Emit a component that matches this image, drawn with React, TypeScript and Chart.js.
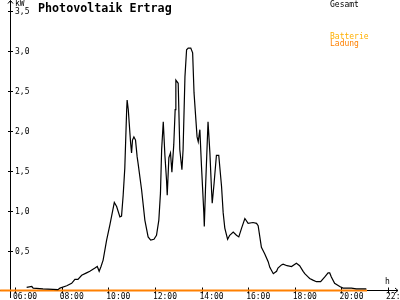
import React, { useEffect, useRef } from "react";
import { Chart, registerables } from "chart.js";

Chart.register(...registerables);

// Time of day in decimal hours
const HOURS = [
  6.5, 6.72, 6.78, 7.2, 7.84, 7.93, 8.22, 8.43, 8.57, 8.7, 8.86, 9.07, 9.21, 9.43, 9.53, 9.61, 9.69,
  9.78, 9.93, 10.07, 10.26, 10.36, 10.5, 10.57, 10.64, 10.71, 10.79, 10.81, 10.86, 10.9, 10.96, 11.0,
  11.04, 11.1, 11.17, 11.24, 11.28, 11.43, 11.57, 11.71, 11.82, 11.96, 12.07, 12.17, 12.24, 12.29,
  12.36, 12.43, 12.5, 12.53, 12.6, 12.67, 12.73, 12.81, 12.87, 12.9, 13.0, 13.07, 13.16, 13.21, 13.29,
  13.36, 13.43, 13.54, 13.62, 13.68, 13.76, 13.81, 13.86, 13.93, 14.0, 14.1, 14.12, 14.17, 14.24,
  14.28, 14.36, 14.43, 14.46, 14.54, 14.64, 14.74, 14.86, 14.93, 15.0, 15.12, 15.21, 15.36, 15.5,
  15.6, 15.72, 15.86, 16.0, 16.21, 16.36, 16.43, 16.57, 16.71, 16.86, 16.93, 17.08, 17.22, 17.28,
  17.43, 17.5, 17.67, 17.86, 18.07, 18.21, 18.36, 18.43, 18.57, 18.64, 18.78, 18.93, 19.11, 19.29,
  19.43, 19.5, 19.57, 19.71, 19.93, 20.07, 20.28, 20.43, 20.64, 21.07,
];

// Gesamt (kW)
const GESAMT = [
  0.04, 0.05, 0.03, 0.02, 0.01, 0.03, 0.06, 0.09, 0.14, 0.14, 0.19, 0.22, 0.24, 0.28, 0.3, 0.24, 0.3,
  0.38, 0.63, 0.82, 1.1, 1.05, 0.92, 0.93, 1.19, 1.53, 2.26, 2.38, 2.26, 2.09, 1.84, 1.72,
  1.88, 1.92, 1.88, 1.67, 1.59, 1.26, 0.88, 0.67, 0.63, 0.64, 0.69, 0.88, 1.22, 1.76,
  2.11, 1.69, 1.38, 1.19, 1.66, 1.72, 1.48, 1.82, 2.26, 2.63, 2.59, 1.76, 1.51, 1.76, 2.67,
  3.01, 3.03, 3.03, 2.97, 2.47, 2.13, 1.92, 1.86, 2.01, 1.55, 0.97, 0.8, 1.26, 1.8,
  2.11, 1.72, 1.26, 1.09, 1.34, 1.69, 1.69, 1.3, 0.97, 0.78, 0.64, 0.69, 0.73, 0.69,
  0.67, 0.78, 0.9, 0.84, 0.85, 0.84, 0.81, 0.54, 0.46, 0.36, 0.29, 0.21, 0.24, 0.28,
  0.32, 0.33, 0.31, 0.3, 0.34, 0.31, 0.24, 0.21, 0.17, 0.15, 0.13, 0.11, 0.11, 0.17,
  0.22, 0.22, 0.17, 0.09, 0.05, 0.03, 0.03, 0.03, 0.02, 0.02,
];

// Batterie Ladung (kW)
const BATTERIE_HOURS = [5.36, 21.1];
const BATTERIE = [0, 0];

const X_TICKS = [6, 8, 10, 12, 14, 16, 18, 20, 22];
const X_TICK_LABELS = ["06:00", "08:00", "10:00", "12:00", "14:00", "16:00", "18:00", "20:00", "22:00"];
const Y_TICKS = [0.5, 1, 1.5, 2, 2.5, 3, 3.5];
const Y_TICK_LABELS = ["0,5", "1,0", "1,5", "2,0", "2,5", "3,0", "3,5"];

const TITLE = "Photovoltaik Ertrag";
const Y_UNIT = "kW";
const X_UNIT = "h";

const MONO = '"DejaVu Sans Mono", monospace';

const axesPlugin = {
  id: "customAxes",
  beforeDatasetsDraw(chart: any) {
    const ctx = chart.ctx;
    const xs = chart.scales.x;
    const ys = chart.scales.y;
    const ax = Math.round(xs.left) - 5 + 0.5;
    const ay = Math.floor(ys.getPixelForValue(0)) + 0.5;
    ctx.save();
    ctx.strokeStyle = "#000";
    ctx.lineWidth = 1;
    ctx.beginPath();
    // y axis + arrow
    ctx.moveTo(ax, 0.5);
    ctx.lineTo(ax, 298);
    ctx.moveTo(ax - 2.5, 3.5);
    ctx.lineTo(ax, 0.5);
    ctx.lineTo(ax + 2.5, 3.5);
    // x axis + arrow
    ctx.moveTo(0, ay);
    ctx.lineTo(398, ay);
    ctx.moveTo(395, ay - 2.5);
    ctx.lineTo(398, ay);
    ctx.lineTo(395, ay + 2.5);
    // y ticks
    Y_TICKS.forEach((v) => {
      const py = Math.round(ys.getPixelForValue(v)) + 0.5;
      ctx.moveTo(ax - 2.5, py);
      ctx.lineTo(ax + 2.5, py);
    });
    // x ticks
    X_TICKS.forEach((h) => {
      const px = Math.round(xs.getPixelForValue(h)) + 0.5;
      ctx.moveTo(px, ay - 3);
      ctx.lineTo(px, ay + 3);
    });
    ctx.stroke();
    ctx.restore();
  },
  afterDraw(chart: any) {
    const ctx = chart.ctx;
    const xs = chart.scales.x;
    const ys = chart.scales.y;
    const ax = Math.round(xs.left) - 5;
    const ay = Math.floor(ys.getPixelForValue(0));
    ctx.save();
    ctx.fillStyle = "#000";
    ctx.font = `8px ${MONO}`;
    ctx.textAlign = "left";
    ctx.textBaseline = "alphabetic";
    Y_TICKS.forEach((v, i) => {
      const py = ys.getPixelForValue(v);
      ctx.fillText(Y_TICK_LABELS[i], ax + 5, Math.max(py + 3, 11));
    });
    X_TICKS.forEach((h, i) => {
      const px = xs.getPixelForValue(h);
      ctx.fillText(X_TICK_LABELS[i], px - 2, ay + 8.5);
    });
    ctx.fillText(Y_UNIT, ax + 5, 6);
    ctx.fillText(X_UNIT, 385, ay - 6);
    // legend
    ctx.fillText("Gesamt", 330, 7);
    ctx.fillStyle = "#ffb000";
    ctx.fillText("Batterie", 330, 38.5);
    ctx.fillStyle = "#ff8000";
    ctx.fillText("Ladung", 330, 46);
    // title
    ctx.fillStyle = "#000";
    ctx.font = `bold 11.7px ${MONO}`;
    ctx.fillText(TITLE, 38, 11.5);
    ctx.restore();
  },
};

export default function App() {
  const ref = useRef<HTMLCanvasElement | null>(null);
  useEffect(() => {
    if (!ref.current) return;
    const chart = new Chart(ref.current, {
      type: "line",
      data: {
        datasets: [
          {
            label: "Batterie Ladung",
            data: BATTERIE_HOURS.map((h, i) => ({ x: h, y: BATTERIE[i] })),
            borderColor: "#ff8000",
            borderWidth: 2,
            pointRadius: 0,
            tension: 0,
            clip: false as any,
            order: 2,
          },
          {
            label: "Gesamt",
            data: HOURS.map((h, i) => ({ x: h, y: GESAMT[i] })),
            borderColor: "#000000",
            borderWidth: 1.2,
            pointRadius: 0,
            tension: 0,
            clip: false as any,
            order: 1,
          },
        ],
      },
      options: {
        responsive: false,
        animation: false,
        layout: { padding: { left: 15, right: 12, top: 10.5, bottom: 9.5 } },
        scales: {
          x: { type: "linear", min: 6, max: 22, display: false },
          y: { type: "linear", min: 0, max: 3.5, display: false },
        },
        plugins: {
          legend: { display: false },
          tooltip: { enabled: false },
          title: { display: false },
        },
      },
      plugins: [axesPlugin],
    });
    return () => chart.destroy();
  }, []);
  return (
    <div style={{ position: "absolute", left: 0, top: 0, width: 400, height: 300, background: "#fff" }}>
      <canvas ref={ref} width={400} height={300} style={{ display: "block" }} />
    </div>
  );
}
